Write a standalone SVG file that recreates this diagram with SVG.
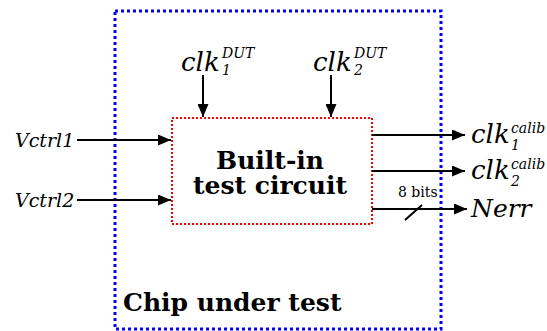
<svg xmlns="http://www.w3.org/2000/svg" width="547" height="331" viewBox="0 0 547 331">
<style>
.lbl{font-family:"DejaVu Serif",serif;font-style:italic;fill:#000}
.big{font-size:26px}
.sm{font-size:14px}
.v{font-size:19px}
.bold{font-family:"DejaVu Serif",serif;font-weight:bold;font-size:25px;fill:#000}
.wire{stroke:#000;stroke-width:2;fill:none}
</style>
<defs>
<marker id="ah" markerWidth="13" markerHeight="11" refX="13" refY="5.5" orient="auto" markerUnits="userSpaceOnUse">
<path d="M0,0 L13,5.5 L0,11 Z" fill="#000"/>
</marker>
</defs>
<g id="chip">
<rect x="115" y="11" width="326" height="318" fill="none" stroke="#0000ff" stroke-width="3" stroke-dasharray="3,3"/>
<text class="bold" x="123" y="311">Chip under test</text>
</g>
<g id="bist">
<rect x="172" y="118" width="200" height="106" fill="none" stroke="#ff0000" stroke-width="2" stroke-dasharray="2,2"/>
<text class="bold" x="270" y="169" text-anchor="middle">Built-in</text>
<text class="bold" x="270" y="194" text-anchor="middle">test circuit</text>
</g>
<g id="clk1dut">
<text class="lbl big" x="181" y="71">clk</text>
<text class="lbl sm" x="222" y="58">DUT</text>
<text class="lbl sm" x="222" y="75">1</text>
</g>
<g id="clk2dut">
<text class="lbl big" x="313" y="71">clk</text>
<text class="lbl sm" x="354" y="58">DUT</text>
<text class="lbl sm" x="354" y="75">2</text>
</g>
<g id="vctrl1"><text class="lbl v" x="15" y="147">Vctrl1</text></g>
<g id="vctrl2"><text class="lbl v" x="15" y="207">Vctrl2</text></g>
<g id="clk1calib">
<text class="lbl big" x="471" y="143">clk</text>
<text class="lbl sm" x="511" y="133">calib</text>
<text class="lbl sm" x="511" y="150">1</text>
</g>
<g id="clk2calib">
<text class="lbl big" x="471" y="179">clk</text>
<text class="lbl sm" x="511" y="169">calib</text>
<text class="lbl sm" x="511" y="186">2</text>
</g>
<g id="nerr"><text class="lbl" font-size="25" x="471" y="217">Nerr</text></g>
<g id="connectors">
<line class="wire" x1="203" y1="75" x2="203" y2="117" marker-end="url(#ah)"/>
<line class="wire" x1="331" y1="75" x2="331" y2="117" marker-end="url(#ah)"/>
<line class="wire" x1="77" y1="140" x2="171" y2="140" marker-end="url(#ah)"/>
<line class="wire" x1="77" y1="200" x2="171" y2="200" marker-end="url(#ah)"/>
<line class="wire" x1="372" y1="135" x2="465" y2="135" marker-end="url(#ah)"/>
<line class="wire" x1="372" y1="171" x2="465" y2="171" marker-end="url(#ah)"/>
<line class="wire" x1="372" y1="209" x2="467" y2="209" marker-end="url(#ah)"/>
<line class="wire" x1="405" y1="220" x2="422" y2="205"/>
<text x="398" y="197" font-family="DejaVu Serif,serif" font-size="14" fill="#000">8 bits</text>
</g>
</svg>
